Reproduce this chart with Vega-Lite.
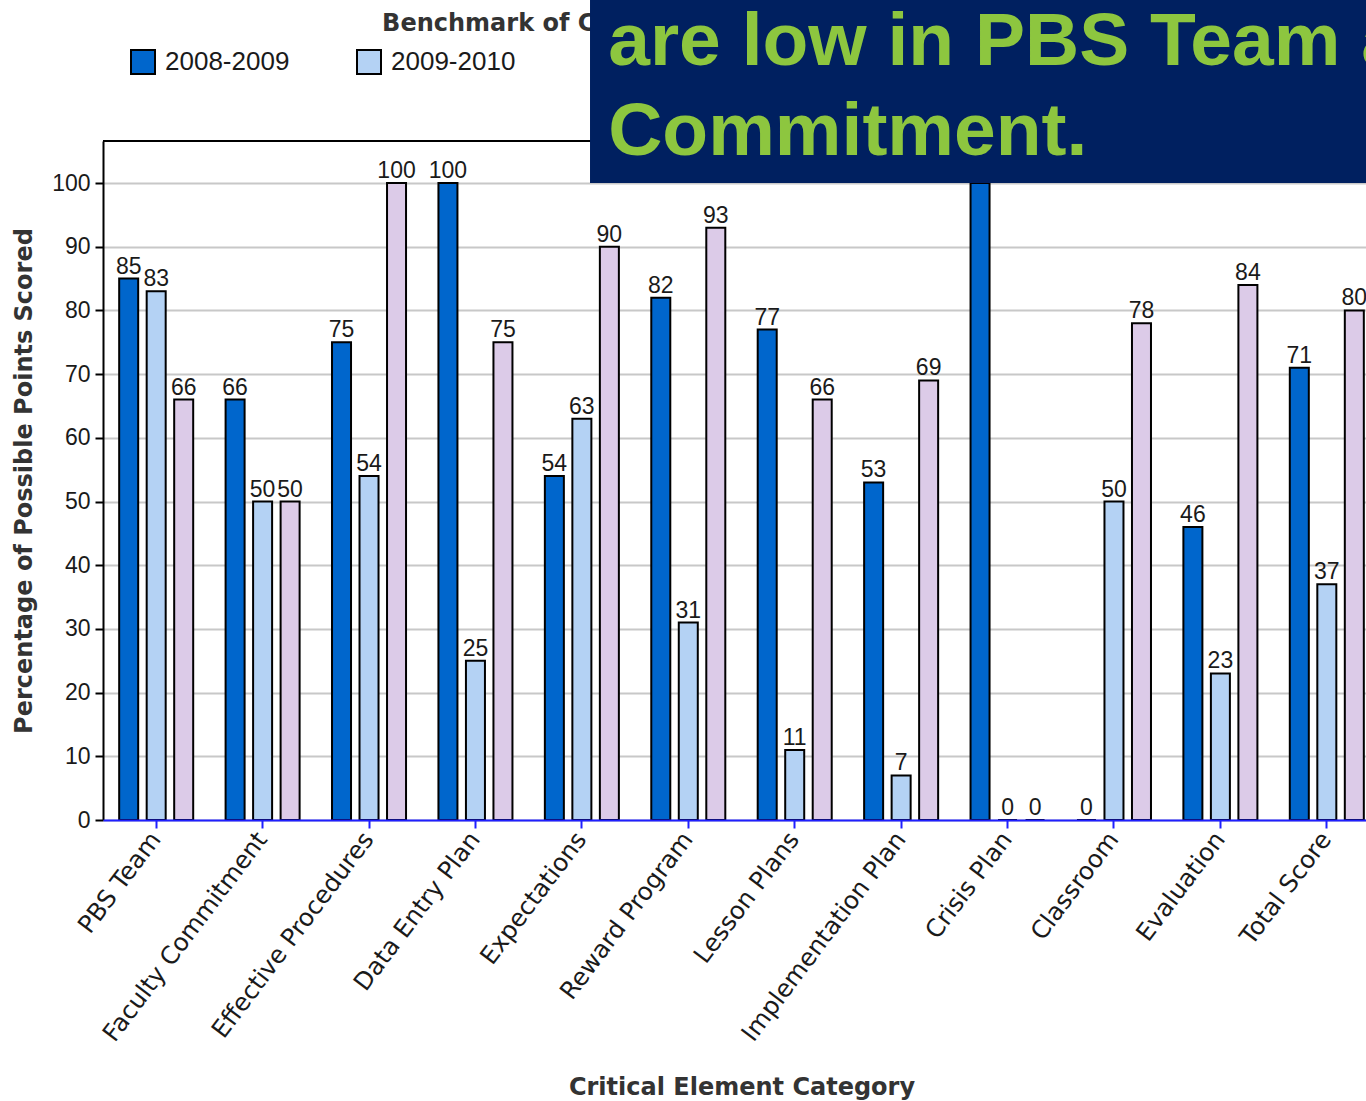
{
  "$schema": "https://vega.github.io/schema/vega-lite/v6.json",
  "width": 1263,
  "height": 679,
  "autosize": {"type": "none"},
  "padding": {"left": 103, "top": 141, "right": 0, "bottom": 281},
  "background": "white",
  "config": {
    "view": {"stroke": null},
    "legend": {"labelColor": "#1a1a1a"}
  },
  "data": {
    "values": [
      {"category": "PBS Team", "year": "2008-2009", "score": 85},
      {"category": "PBS Team", "year": "2009-2010", "score": 83},
      {"category": "PBS Team", "year": "2010-2011", "score": 66},
      {"category": "Faculty Commitment", "year": "2008-2009", "score": 66},
      {"category": "Faculty Commitment", "year": "2009-2010", "score": 50},
      {"category": "Faculty Commitment", "year": "2010-2011", "score": 50},
      {"category": "Effective Procedures", "year": "2008-2009", "score": 75},
      {"category": "Effective Procedures", "year": "2009-2010", "score": 54},
      {"category": "Effective Procedures", "year": "2010-2011", "score": 100},
      {"category": "Data Entry Plan", "year": "2008-2009", "score": 100},
      {"category": "Data Entry Plan", "year": "2009-2010", "score": 25},
      {"category": "Data Entry Plan", "year": "2010-2011", "score": 75},
      {"category": "Expectations", "year": "2008-2009", "score": 54},
      {"category": "Expectations", "year": "2009-2010", "score": 63},
      {"category": "Expectations", "year": "2010-2011", "score": 90},
      {"category": "Reward Program", "year": "2008-2009", "score": 82},
      {"category": "Reward Program", "year": "2009-2010", "score": 31},
      {"category": "Reward Program", "year": "2010-2011", "score": 93},
      {"category": "Lesson Plans", "year": "2008-2009", "score": 77},
      {"category": "Lesson Plans", "year": "2009-2010", "score": 11},
      {"category": "Lesson Plans", "year": "2010-2011", "score": 66},
      {"category": "Implementation Plan", "year": "2008-2009", "score": 53},
      {"category": "Implementation Plan", "year": "2009-2010", "score": 7},
      {"category": "Implementation Plan", "year": "2010-2011", "score": 69},
      {"category": "Crisis Plan", "year": "2008-2009", "score": 100},
      {"category": "Crisis Plan", "year": "2009-2010", "score": 0},
      {"category": "Crisis Plan", "year": "2010-2011", "score": 0},
      {"category": "Classroom", "year": "2008-2009", "score": 0},
      {"category": "Classroom", "year": "2009-2010", "score": 50},
      {"category": "Classroom", "year": "2010-2011", "score": 78},
      {"category": "Evaluation", "year": "2008-2009", "score": 46},
      {"category": "Evaluation", "year": "2009-2010", "score": 23},
      {"category": "Evaluation", "year": "2010-2011", "score": 84},
      {"category": "Total Score", "year": "2008-2009", "score": 71},
      {"category": "Total Score", "year": "2009-2010", "score": 37},
      {"category": "Total Score", "year": "2010-2011", "score": 80}
    ]
  },
  "layer": [
    {
      "encoding": {
        "x": {
          "field": "category",
          "type": "nominal",
          "sort": null,
          "scale": {"range": [0, 1277], "paddingInner": 0.3045, "paddingOuter": 0.152},
          "axis": {
            "title": "Critical Element Category",
            "labelAngle": -53,
            "labelFont": "DejaVu Sans",
            "labelFontSize": 24.5,
            "labelColor": "#1a1a1a",
            "labelPadding": 7,
            "labelLimit": 400,
            "domainColor": "#1f1fff",
            "domainWidth": 2,
            "tickColor": "#1f1fff",
            "tickWidth": 2,
            "tickSize": 8,
            "titleFont": "DejaVu Sans",
            "titleFontSize": 24,
            "titleFontWeight": "bold",
            "titleColor": "#333333",
            "titleBaseline": "alphabetic",
            "titleY": 274,
            "zindex": 1
          }
        },
        "xOffset": {
          "field": "year",
          "type": "nominal",
          "sort": null,
          "scale": {"paddingInner": 0.309, "paddingOuter": 0}
        },
        "y": {
          "field": "score",
          "type": "quantitative",
          "scale": {"domain": [0, 106.6], "nice": false, "zero": true},
          "axis": {
            "values": [0, 5, 10, 15, 20, 25, 30, 35, 40, 45, 50, 55, 60, 65, 70, 75, 80, 85, 90, 95, 100],
            "labelExpr": "datum.value % 10 === 0 ? datum.label : ''",
            "grid": true,
            "gridColor": "#c8c8c8",
            "gridWidth": 2,
            "domainColor": "black",
            "domainWidth": 2,
            "tickColor": "black",
            "tickWidth": 2,
            "tickSize": 8,
            "labelFont": "Liberation Sans",
            "labelFontSize": 23,
            "labelColor": "#1a1a1a",
            "labelPadding": 5,
            "title": "Percentage of Possible Points Scored",
            "titleFont": "DejaVu Sans",
            "titleFontSize": 24,
            "titleFontWeight": "bold",
            "titleColor": "#333333",
            "titleAngle": -90,
            "titleAlign": "center",
            "titleBaseline": "top",
            "titleX": -91,
            "titleY": 339.5
          }
        }
      },
      "layer": [
        {
          "mark": {"type": "bar", "stroke": "black", "strokeWidth": 2},
          "encoding": {
            "color": {
              "field": "year",
              "type": "nominal",
              "scale": {
                "domain": ["2008-2009", "2009-2010", "2010-2011"],
                "range": ["#0066cc", "#b4d2f4", "#dccbe8"]
              },
              "legend": {
                "title": null,
                "orient": "none",
                "legendX": 27,
                "legendY": -92,
                "direction": "horizontal",
                "values": ["2008-2009", "2009-2010"],
                "symbolType": "square",
                "symbolSize": 576,
                "symbolStrokeColor": "black",
                "symbolStrokeWidth": 2,
                "symbolOpacity": 1,
                "labelFont": "Liberation Sans",
                "labelFontSize": 26,
                "labelOffset": 9,
                "columnPadding": 63
              }
            }
          }
        },
        {
          "mark": {
            "type": "text",
            "baseline": "alphabetic",
            "dy": -5,
            "font": "Liberation Sans",
            "fontSize": 23,
            "color": "#1a1a1a"
          },
          "encoding": {"text": {"field": "score", "type": "quantitative"}}
        }
      ]
    },
    {
      "data": {"values": [{}]},
      "layer": [
        {
          "mark": {"type": "rule", "color": "black", "strokeWidth": 2},
          "encoding": {
            "x": {"datum": 0, "type": "quantitative", "scale": {"domain": [0, 1], "nice": false, "zero": false}, "axis": null},
            "x2": {"datum": 1.05},
            "y": {"datum": 106.6, "type": "quantitative"}
          }
        },
        {
          "mark": {
            "type": "text",
            "text": "Benchmark of Critical Elements",
            "align": "left",
            "baseline": "alphabetic",
            "font": "DejaVu Sans",
            "fontWeight": "bold",
            "fontSize": 24,
            "color": "#333333"
          },
          "encoding": {
            "x": {"datum": 0.221, "type": "quantitative"},
            "y": {"datum": 123.9, "type": "quantitative"}
          }
        },
        {
          "mark": {"type": "rect", "color": "#002060"},
          "encoding": {
            "x": {"datum": 0.3856, "type": "quantitative"},
            "x2": {"datum": 1.1},
            "y": {"datum": 100, "type": "quantitative"},
            "y2": {"datum": 140}
          }
        },
        {
          "mark": {
            "type": "text",
            "text": ["are low in PBS Team and", "Commitment."],
            "align": "left",
            "baseline": "alphabetic",
            "lineHeight": 90,
            "font": "Liberation Sans",
            "fontWeight": "bold",
            "fontSize": 75,
            "color": "#8dc63f"
          },
          "encoding": {
            "x": {"datum": 0.4, "type": "quantitative"},
            "y": {"datum": 118.5, "type": "quantitative"}
          }
        }
      ]
    }
  ],
  "resolve": {"scale": {"x": "independent"}, "axis": {"x": "independent"}}
}
